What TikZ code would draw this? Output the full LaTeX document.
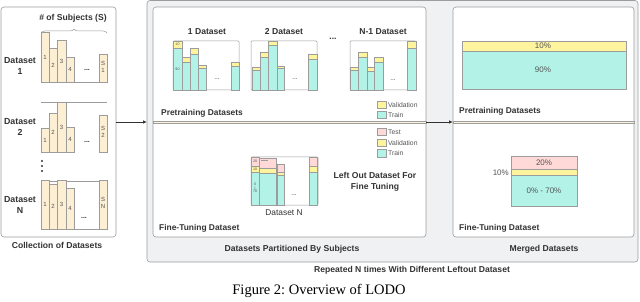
\documentclass[tikz,border=0pt]{standalone}
\usepackage{fontspec}
\setmainfont{Liberation Sans}
\newfontfamily\capfont{Liberation Serif}
\usetikzlibrary{decorations.pathreplacing,arrows.meta}
\definecolor{cream}{HTML}{FCEFD3}
\definecolor{yel}{HTML}{FFF49E}
\definecolor{teal2}{HTML}{B3F2E7}
\definecolor{pink2}{HTML}{FFD8D8}
\definecolor{bggray}{HTML}{F0F1F3}
\definecolor{bord}{HTML}{9C9C9C}
\definecolor{txt}{HTML}{333333}
\definecolor{txtl}{HTML}{555555}
\newcommand\segbox[5]{\path[draw=bord,fill=#5,line width=0.4pt] (#1,#3) rectangle (#2,#4);}
\begin{document}
\begin{tikzpicture}[x=1pt,y=-1pt,
  panel/.style={draw=bord, fill=white, rounded corners=3pt, line width=0.6pt, inner sep=0pt, outer sep=0pt},
  outerbox/.style={draw=bord, fill=bggray, rounded corners=3pt, line width=0.6pt, inner sep=0pt, outer sep=0pt},
  title/.style={font=\bfseries\fontsize{8.6}{10}\selectfont, text=txt, inner sep=0pt},
  sect/.style={font=\bfseries\fontsize{8.4}{10}\selectfont, text=txt, inner sep=0pt, anchor=west},
  dsl/.style={font=\bfseries\fontsize{8.8}{10.5}\selectfont, text=txt, align=center, inner sep=0pt},
  barlbl/.style={font=\fontsize{6}{6.5}\selectfont, text=txtl, align=center, inner sep=0pt},
  tiny/.style={font=\fontsize{3.6}{4}\selectfont, text=txtl, align=center, inner sep=0pt},
  legtxt/.style={font=\fontsize{6.8}{8}\selectfont, text=txtl, anchor=west, inner sep=0pt},
  pct/.style={font=\fontsize{8}{9}\selectfont, text=txtl, inner sep=0pt},
  leftbar/.style={draw=bord, fill=cream, line width=0.4pt},
  frame/.style={draw=bord, fill=white, line width=0.5pt, rounded corners=1pt},
  sep/.style={draw=bord, fill=cream!70, line width=0.4pt},
  arr/.style={draw=txt, line width=0.8pt, -{Latex[length=4pt,width=3.5pt]}},
  dots/.style={font=\bfseries\fontsize{7}{8}\selectfont, text=txt, inner sep=0pt}
]
\useasboundingbox (0,0) rectangle (640,302);

% ---------------- left panel ----------------
\node[panel, minimum width=115pt, minimum height=230pt] (lp) at (58.5,122) {};
\node[title] (ns) at (73,18) {\# of Subjects (S)};
\draw[draw=bord, line width=0.5pt, decorate, decoration={brace, amplitude=4pt}] (41,33) -- (107,33);

% Dataset 1
\foreach \a/\b/\t/\l in {41/49/32/1, 49/57/48/2, 57/66/40/3, 66/74/57/4}{
  \path[leftbar] (\a,\t) rectangle (\b,82);
  \node[barlbl] at ({(\a+\b)/2},{(\t+82)/2}) {\l};
}
\path[leftbar] (99,54) rectangle (107,82);
\node[barlbl] at (103,67) {S\\1};
\draw[bord, line width=0.6pt] (41,82) -- (107,82);
\node[dots] at (87,70) {...};
\node[dsl] (d1) at (20,66) {Dataset\\1};

% Dataset 2
\draw[bord, line width=0.5pt] (41,102) -- (107,102);
\foreach \a/\b/\t/\l in {41/49/128/1, 49/57/113/2, 57/66/102/3, 66/74/127/4}{
  \path[leftbar] (\a,\t) rectangle (\b,152);
  \node[barlbl] at ({(\a+\b)/2},{(\t+152)/2}) {\l};
}
\path[leftbar] (99,115) rectangle (107,152);
\node[barlbl] at (103,132) {S\\2};
\node[dots] at (87,142) {...};
\node[dsl] (d2) at (20,127) {Dataset\\2};

% vertical dots
\foreach \y in {161,166,171}{ \fill[txt] (42,\y) circle (1.1pt); }

% Dataset N
\path[frame, rounded corners=0pt] (41,181) rectangle (107,229);
\foreach \a/\b/\t/\l in {41/49/180/1, 49/57/184/2, 57/66/180/3, 66/74/188/4}{
  \path[leftbar] (\a,\t) rectangle (\b,229);
  \node[barlbl] at ({(\a+\b)/2},{(\t+229)/2}) {\l};
}
\path[leftbar] (99,180) rectangle (107,229);
\node[barlbl] at (103,203) {S\\N};
\draw[bord, line width=0.6pt] (41,229) -- (107,229);
\node[dots] at (84,218) {...};
\node[dsl] (dn) at (20,205) {Dataset\\N};

\node[title] (col) at (57,245) {Collection of Datasets};

% ---------------- outer box ----------------
\node[outerbox, minimum width=491pt, minimum height=261.5pt] (ob) at (392.5,131.25) {};

% ---------------- middle panel ----------------
\node[panel, minimum width=273pt, minimum height=230pt] (mp) at (289.5,122) {};
\path[sep] (153,120.8) rectangle (426,123.6);

\node[title] (t1) at (207,32) {1 Dataset};
\node[title] (t2) at (284,32) {2 Dataset};
\node[title] (t3) at (383,32) {N-1 Dataset};
\node[title] at (333,39) {...};

\path[frame] (173,41) rectangle (239,90);
\path[frame] (251,41) rectangle (317,90);
\path[frame] (350,41) rectangle (416,90);

\foreach \a/\b/\t/\m in {173/182/41/48, 182/190/57/62, 190/198/48/54, 198/206/65/68, 231/239/62/66,
                          252/260/67/70, 260/268/52/57, 268/277/41/45, 277/284/66/68, 308/317/54/59,
                          350/358/67/70, 358/367/52/57, 367/374/67/71, 374/383/57/62, 407/416/41/48}{
  \segbox{\a}{\b}{\m}{90}{teal2}
  \segbox{\a}{\b}{\t}{\m}{yel}
}
\node[tiny] at (177.5,44.5) {10};
\node[tiny] at (177.5,69) {90};
\node[dots, font=\fontsize{6.5}{7}\selectfont] at (217,79) {...};
\node[dots, font=\fontsize{6.5}{7}\selectfont] at (295,79) {...};
\node[dots, font=\fontsize{6.5}{7}\selectfont] at (393,80) {...};

% legend top
\segbox{377}{386}{101.5}{108.5}{yel}
\node[legtxt] at (388,105) {Validation};
\segbox{377}{386}{111.5}{118.5}{teal2}
\node[legtxt] at (388,115) {Train};

\node[sect] (pt1) at (161,113) {Pretraining Datasets};

% legend bottom
\segbox{377}{386}{128}{135.5}{pink2}
\node[legtxt] at (388,132) {Test};
\segbox{377}{386}{139}{146.5}{yel}
\node[legtxt] at (388,143) {Validation};
\segbox{377}{386}{149.5}{157}{teal2}
\node[legtxt] at (388,153) {Train};

% Dataset N chart
\path[frame] (251,157) rectangle (318,205);
\foreach \a/\b/\p/\v/\t in {251/259/157/166/172, 259/276/158/168/173, 277/284/164/172/175, 309/317/157/166/172}{
  \segbox{\a}{\b}{\t}{205}{teal2}
  \segbox{\a}{\b}{\v}{\t}{yel}
  \segbox{\a}{\b}{\p}{\v}{pink2}
}
\draw[bord, line width=0.4pt] (261,160) -- (268,160);
\node[tiny] at (255,161.5) {20};
\node[tiny] at (255,169) {10};
\node[tiny] at (255,188) {0\\[-0.3pt]|\\[-0.3pt]70};
\node[dots, font=\fontsize{6.5}{7}\selectfont] at (294,195) {...};
\node[font=\fontsize{8.4}{10}\selectfont, text=txt, inner sep=0pt] (dsn) at (284,213) {Dataset N};

\node[dsl, font=\bfseries\fontsize{8.6}{11}\selectfont] (lo) at (375,181.5) {Left Out Dataset For\\Fine Tuning};
\node[sect] (ft1) at (159,228) {Fine-Tuning Dataset};

\node[title] (dps) at (292,249) {Datasets Partitioned By Subjects};

% ---------------- right panel ----------------
\node[panel, minimum width=181pt, minimum height=230pt] (rp) at (543.5,122) {};
\path[sep] (453,120.8) rectangle (634,123.6);

\segbox{462}{626}{51}{89}{teal2}
\segbox{462}{626}{41}{51}{yel}
\node[pct] at (543,46) {10\%};
\node[pct] at (543,70) {90\%};
\node[sect] (pt2) at (459,111) {Pretraining Datasets};

\segbox{511}{577}{175}{206}{teal2}
\segbox{511}{577}{169}{175}{yel}
\segbox{511}{577}{156}{169}{pink2}
\node[pct] at (544,163) {20\%};
\node[pct] at (544,191) {0\% - 70\%};
\node[pct, anchor=east] at (509,173) {10\%};
\node[sect] (ft2) at (459,228) {Fine-Tuning Dataset};

\node[title] (md) at (544,249) {Merged Datasets};

\node[title] (rep) at (412,270) {Repeated N times With Different Leftout Dataset};

% ---------------- arrows ----------------
\draw[arr] (lp.east) -- (lp.east -| ob.west);
\draw[arr] (mp.east) -- (rp.west);

% caption
\node[font=\capfont\fontsize{14.5}{16}\selectfont, inner sep=0pt] (cap) at (319,291) {Figure 2:\ Overview of LODO};
\end{tikzpicture}
\end{document}
